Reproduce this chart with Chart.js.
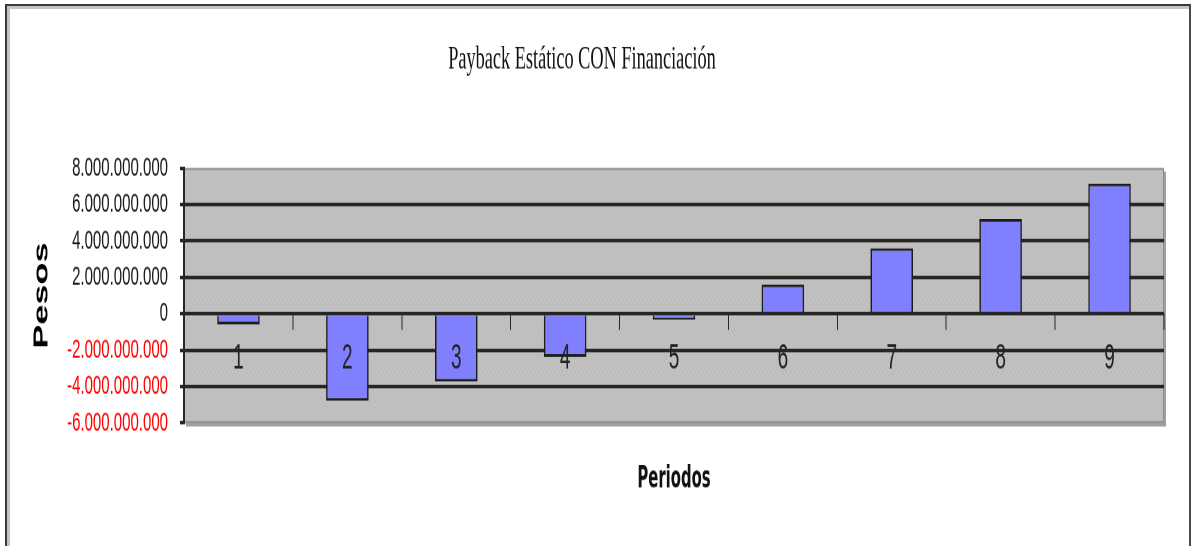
<!DOCTYPE html>
<html>
<head>
<meta charset="utf-8">
<title>Payback Estático CON Financiación</title>
<script src="https://cdn.jsdelivr.net/npm/chart.js@4.4.1/dist/chart.umd.min.js"></script>
<style>
  html, body { margin: 0; padding: 0; background: #fff; width: 1192px; height: 546px; overflow: hidden; }
  /* the chart is laid out at 1192x303 and stretched vertically to fill the page */
  #wrap { position: absolute; left: 0; top: 0; width: 1192px; height: 303px;
          transform: scaleY(1.802); transform-origin: 0 0; }
  #frame { position: absolute; left: 5px; top: 4px; width: 1182px; height: 560px;
           border-top: 2px solid #3a3a3a; border-left: 2px solid #3a3a3a; border-right: 2px solid #4a4a4a;
           box-shadow: inset 3px 3px 0 #c4c4c4; pointer-events: none; }
</style>
</head>
<body>
<div id="wrap"><canvas id="chart"></canvas></div>
<div id="frame"></div>
<script>
// Periods and cumulative cash position (pesos)
const periodos = ['1', '2', '3', '4', '5', '6', '7', '8', '9'];
const pesos = [-590000000, -4780000000, -3730000000, -2370000000, -320000000,
               1600000000, 3600000000, 5200000000, 7150000000];
const yMin = -6000000000;
const yMax = 8000000000;
const yStep = 2000000000;

const titulo = 'Payback Estático CON Financiación';
const tituloX = 'Periodos';
const tituloY = 'Pesos';

// "8.000.000.000" style thousands separators
function formatoPesos(v) {
  const s = Math.abs(v).toString().replace(/\B(?=(\d{3})+(?!\d))/g, '.');
  return (v < 0 ? '-' : '') + s;
}

// light grey speckled plot background
function makePattern() {
  const c = document.createElement('canvas');
  c.width = 4; c.height = 4;
  const g = c.getContext('2d');
  g.fillStyle = '#c0c0c0'; g.fillRect(0, 0, 4, 4);
  g.fillStyle = '#b6b6b6';
  g.fillRect(0, 0, 1, 1); g.fillRect(2, 2, 1, 1);
  g.fillStyle = '#c9c9c9';
  g.fillRect(2, 0, 1, 1); g.fillRect(0, 2, 1, 1);
  return c;
}

const plotArea = {
  id: 'plotArea',
  beforeDraw(chart) {
    const { ctx, chartArea: a } = chart;
    ctx.save();
    // drop shadow on the right and bottom
    ctx.fillStyle = '#a0a0a0';
    ctx.fillRect(a.left + 2, a.top + 2, a.right - a.left, a.bottom - a.top);
    ctx.fillStyle = ctx.createPattern(makePattern(), 'repeat');
    ctx.fillRect(a.left, a.top, a.right - a.left, a.bottom - a.top);
    ctx.strokeStyle = '#8c8c8c';
    ctx.lineWidth = 1;
    ctx.strokeRect(a.left + 0.5, a.top + 0.5, a.right - a.left - 1, a.bottom - a.top - 1);
    ctx.restore();
  }
};

new Chart(document.getElementById('chart'), {
  type: 'bar',
  data: {
    labels: periodos,
    datasets: [{
      data: pesos,
      backgroundColor: '#8080ff',
      borderColor: '#1c1c1c',
      borderWidth: 1.5,
      barPercentage: 0.39,
      categoryPercentage: 1.0,
      xAxisID: 'x'
    }]
  },
  options: {
    responsive: true,
    maintainAspectRatio: false,
    animation: false,
    devicePixelRatio: 2,
    layout: { padding: { left: 0, right: 28, top: 0, bottom: 0 } },
    plugins: {
      legend: { display: false },
      tooltip: { enabled: false },
      title: {
        display: true,
        text: titulo,
        color: '#111',
        font: { family: '"Liberation Serif", "Times New Roman", serif', size: 18.3, weight: 'normal' },
        padding: { top: 22.3, bottom: 49 }
      }
    },
    scales: {
      x: {
        type: 'category',
        position: { y: 0 },
        offset: true,
        grid: { display: true, drawOnChartArea: false, drawTicks: true, offset: true,
                tickLength: 9, tickColor: '#262626', tickWidth: 1 },
        border: { display: false },
        ticks: { z: 1, padding: 5, color: '#222', maxRotation: 0, autoSkip: false,
                 font: { family: '"Liberation Sans", Arial, sans-serif', size: 19 } }
      },
      x2: {
        type: 'category',
        position: 'bottom',
        display: true,
        grid: { display: false, drawTicks: false },
        border: { display: false },
        ticks: { display: false },
        title: {
          display: true,
          text: tituloX,
          color: '#111',
          font: { family: '"Liberation Sans Narrow", "DejaVu Sans Condensed", sans-serif', size: 16.5, weight: 'bold' },
          padding: { top: 21.5, bottom: 27 }
        }
      },
      y: {
        min: yMin,
        max: yMax,
        grid: {
          color: ctx => (ctx.tick && (ctx.tick.value === yMin || ctx.tick.value === yMax)) ? 'rgba(0,0,0,0)' : '#262626',
          lineWidth: 2,
          drawTicks: true,
          tickLength: 4,
          tickColor: '#262626',
          tickWidth: 2
        },
        border: { display: true, color: '#262626', width: 2 },
        ticks: {
          stepSize: yStep,
          autoSkip: false,
          padding: 12,
          font: { family: '"Liberation Sans", Arial, sans-serif', size: 15 },
          color: ctx => ctx.tick.value < 0 ? '#ff0000' : '#1a1a1a',
          callback: v => formatoPesos(v)
        },
        title: {
          display: true,
          text: tituloY,
          color: '#000',
          font: { family: '"Liberation Sans", Arial, sans-serif', size: 20, weight: 'bold' },
          padding: { top: 30, bottom: 0 }
        },
        afterFit: s => { s.width = 184; }
      }
    }
  },
  plugins: [plotArea]
});
</script>
</body>
</html>
